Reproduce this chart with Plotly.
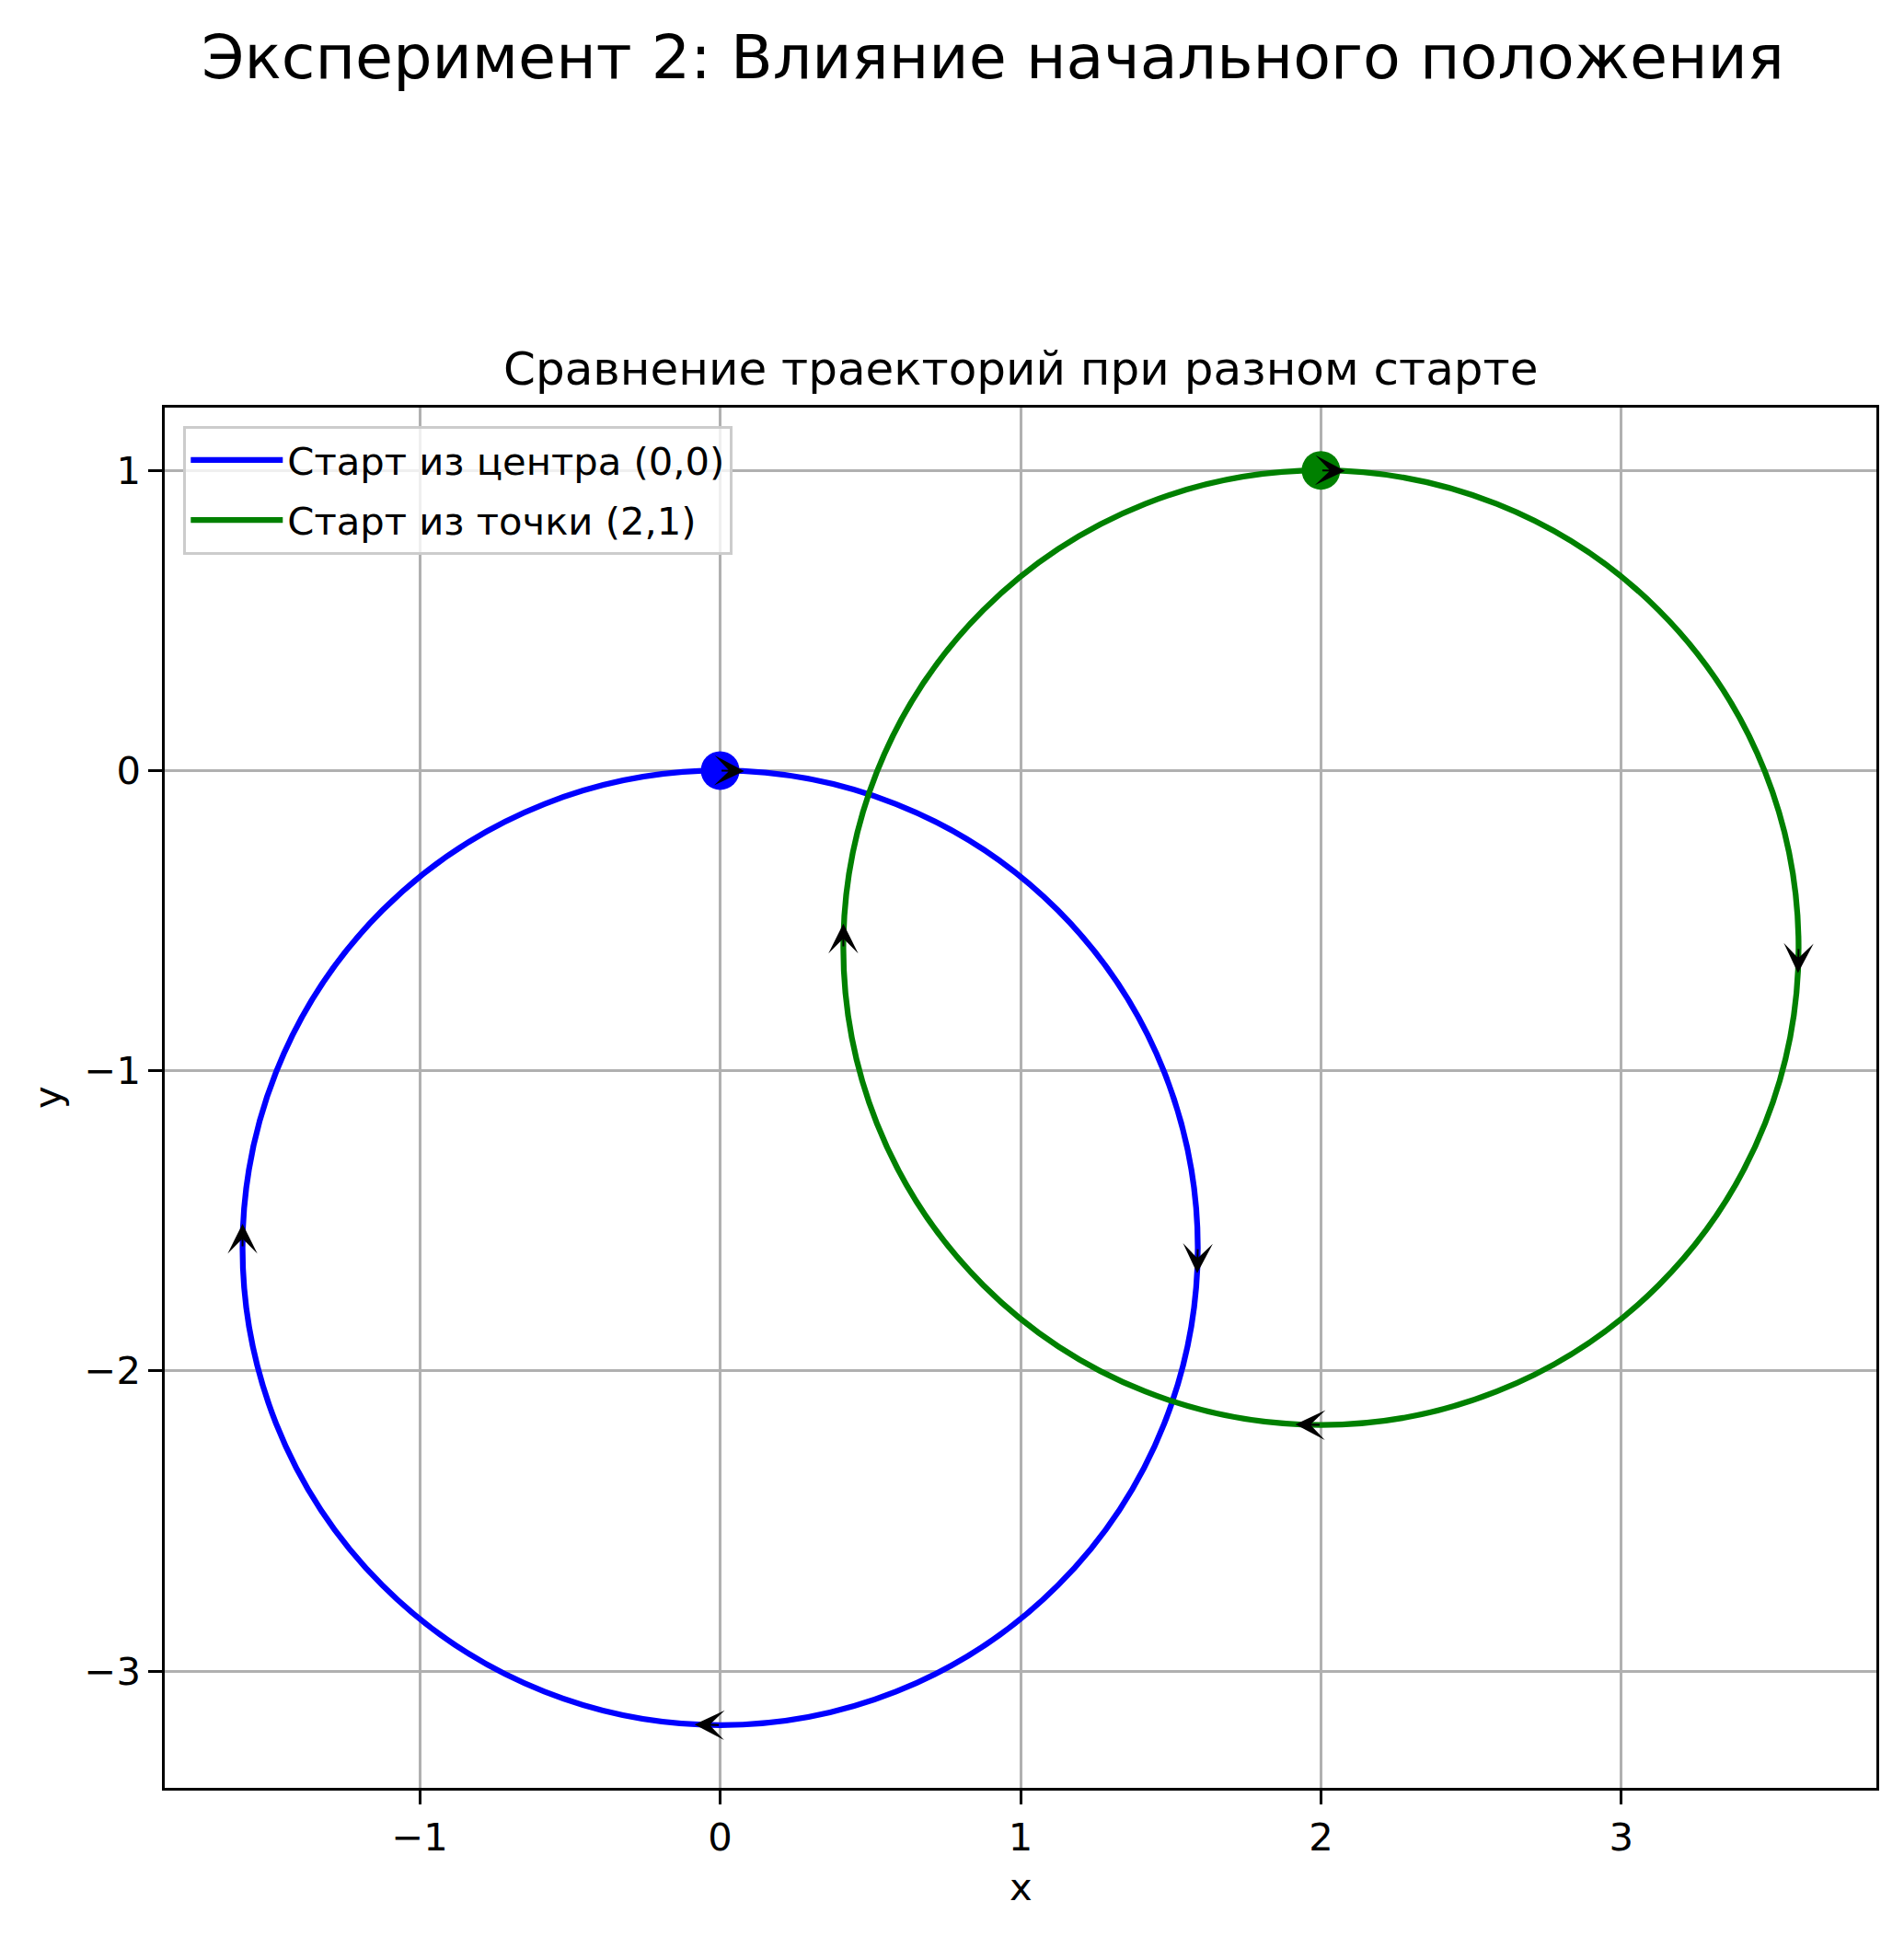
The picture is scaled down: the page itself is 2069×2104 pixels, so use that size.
import plotly.graph_objects as go

# ---------------- data ----------------
series_names = ["Старт из центра (0,0)", "Старт из точки (2,1)"]
series_colors = ["#0000ff", "#008000"]
start_x = [0.0, 2.0]
start_y = [0.0, 1.0]
center_x = [0.0, 2.0]
center_y = [-1.59, -0.59]
radius = [1.59, 1.59]

# direction arrows (tail -> tip) for each trajectory
arrow_tail_x = [[0.0, 1.59, 0.0, -1.59], [2.0, 3.59, 2.0, 0.41]]
arrow_tail_y = [[0.0, -1.59, -3.18, -1.59], [1.0, -0.59, -2.18, -0.59]]
arrow_tip_x = [[0.08, 1.588, -0.085, -1.59], [2.08, 3.588, 1.915, 0.41]]
arrow_tip_y = [[-0.002, -1.675, -3.178, -1.51], [0.998, -0.675, -2.178, -0.51]]

x_ticks = [-1, 0, 1, 2, 3]
y_ticks = [-3, -2, -1, 0, 1]
x_range = [-1.849, 3.849]
y_range = [-3.389, 1.209]

suptitle = "Эксперимент 2: Влияние начального положения"
ax_title = "Сравнение траекторий при разном старте"
x_label = "x"
y_label = "y"

# ---------------- figure ----------------
W, H = 2069, 2104
L, R, T, B = 179, 2039.5, 443, 1943
FONT = "DejaVu Sans"
LW = 6.25

fig = go.Figure()
shapes = []
annotations = []

for i, name in enumerate(series_names):
    col = series_colors[i]
    # trajectory circle drawn through the axis scales
    shapes.append(dict(type="circle", xref="x", yref="y",
                       x0=center_x[i] - radius[i], x1=center_x[i] + radius[i],
                       y0=center_y[i] - radius[i], y1=center_y[i] + radius[i],
                       line=dict(color=col, width=LW), layer="between"))
    # legend entry
    fig.add_trace(go.Scatter(x=[None], y=[None], mode="lines", name=name,
                             legendgroup="g%d" % i,
                             line=dict(color=col, width=LW), showlegend=True))

for i, name in enumerate(series_names):
    for tx, ty, hx, hy in zip(arrow_tail_x[i], arrow_tail_y[i], arrow_tip_x[i], arrow_tip_y[i]):
        annotations.append(dict(x=hx, y=hy, ax=tx, ay=ty, xref="x", yref="y",
                                axref="x", ayref="y", text="", showarrow=True,
                                arrowhead=3, arrowsize=2.7, arrowwidth=2,
                                arrowcolor="black", standoff=0))

for i, name in enumerate(series_names):
    fig.add_trace(go.Scatter(x=[start_x[i]], y=[start_y[i]], mode="markers",
                             marker=dict(color=series_colors[i], size=42, line=dict(width=0)),
                             showlegend=False, name=name + " старт"))

pw, ph = R - L, B - T

annotations += [
    dict(text=suptitle, xref="paper", yref="paper", x=(1079 - L) / pw, y=(B - 62) / ph,
         xanchor="center", yanchor="middle", showarrow=False,
         font=dict(family=FONT, size=66.7, color="black")),
    dict(text=ax_title, xref="paper", yref="paper", x=0.5, y=(B - 401) / ph,
         xanchor="center", yanchor="middle", showarrow=False,
         font=dict(family=FONT, size=50, color="black")),
    dict(text=x_label, xref="paper", yref="paper", x=0.5, y=(B - 2050) / ph,
         xanchor="center", yanchor="middle", showarrow=False,
         font=dict(family=FONT, size=41.7, color="black")),
    dict(text=y_label, xref="paper", yref="paper", x=(51 - L) / pw, y=0.5,
         xanchor="center", yanchor="middle", showarrow=False, textangle=-90,
         font=dict(family=FONT, size=41.7, color="black")),
]

axis_common = dict(showgrid=True, gridcolor="#b0b0b0", gridwidth=3.3,
                   zeroline=False, showline=True, linecolor="black", linewidth=3.3,
                   mirror=True, ticks="outside", ticklen=14.6, tickwidth=3.3,
                   tickcolor="black", tickfont=dict(family=FONT, size=41.7, color="black"))

fig.update_layout(
    width=W, height=H,
    margin=dict(l=L, r=W - R, t=T, b=H - B, autoexpand=False),
    paper_bgcolor="white", plot_bgcolor="white",
    shapes=shapes, annotations=annotations,
    xaxis=dict(range=x_range, tickvals=x_ticks, **axis_common),
    yaxis=dict(range=y_range, tickvals=y_ticks, **axis_common),
    legend=dict(x=(199 - L) / pw, y=(B - 463) / ph, xanchor="left", yanchor="top",
                bgcolor="rgba(255,255,255,0.8)", bordercolor="#cccccc", borderwidth=3.3,
                font=dict(family=FONT, size=41.7, color="black"), itemwidth=100,
                tracegroupgap=8),
    font=dict(family=FONT),
    showlegend=True,
)

fig.write_html("out.html")
